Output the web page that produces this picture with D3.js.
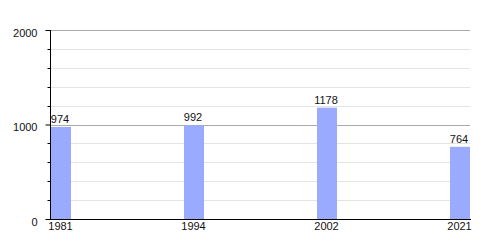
<!DOCTYPE html>
<html>
<head>
<meta charset="utf-8">
<script src="https://cdn.jsdelivr.net/npm/d3@7.9.0/dist/d3.min.js"></script>
<style>
  html, body { margin: 0; padding: 0; background: #fff; }
  svg text { font-family: "Liberation Sans", Arial, sans-serif; font-size: 11px; fill: #111; }
</style>
</head>
<body>
<svg id="chart" width="500" height="250"></svg>
<script>
const years = ["1981", "1994", "2002", "2021"];
const population = [974, 992, 1178, 764];
const yTicks = [0, 1000, 2000];
const minorTicks = [200, 400, 600, 800, 1200, 1400, 1600, 1800];

const svg = d3.select("#chart");
const plotLeft = 50, plotRight = 470, plotTop = 30, plotBottom = 219;
const barW = 20;

const x = d3.scalePoint()
  .domain(years)
  .range([plotLeft + 1 + barW / 2, plotRight - barW / 2]);

const y = d3.scaleLinear()
  .domain([0, 2000])
  .range([plotBottom, plotTop]);

// grid lines
svg.append("g")
  .selectAll("line")
  .data(minorTicks)
  .join("line")
  .attr("x1", plotLeft).attr("x2", plotRight)
  .attr("y1", d => Math.round(y(d)) + 0.5).attr("y2", d => Math.round(y(d)) + 0.5)
  .attr("stroke", "#e4e4e4");

svg.append("g")
  .selectAll("line")
  .data(yTicks.filter(d => d > 0))
  .join("line")
  .attr("x1", plotLeft).attr("x2", plotRight)
  .attr("y1", d => Math.round(y(d)) + 0.5).attr("y2", d => Math.round(y(d)) + 0.5)
  .attr("stroke", "#aaaaaa");

// bars
const data = years.map((yr, i) => ({ year: yr, value: population[i] }));

svg.append("g")
  .selectAll("rect")
  .data(data)
  .join("rect")
  .attr("x", d => x(d.year) - barW / 2)
  .attr("y", d => y(d.value))
  .attr("width", barW)
  .attr("height", d => plotBottom - y(d.value))
  .attr("fill", "#99aaff");

svg.append("g")
  .selectAll("text")
  .data(data)
  .join("text")
  .attr("x", d => x(d.year) - 1)
  .attr("y", d => y(d.value) - 4)
  .attr("text-anchor", "middle")
  .text(d => d.value);

// y axis
const yAxis = d3.axisLeft(y)
  .tickValues(yTicks)
  .tickSize(5)
  .tickPadding(8)
  .tickFormat(d3.format("d"));

const ya = svg.append("g")
  .attr("transform", `translate(${plotLeft + 0.5},0)`)
  .call(yAxis);
ya.select(".domain").remove();
ya.selectAll("text").attr("dy", "0.55em").attr("y", 0).attr("x", -13);
ya.selectAll(".tick line").attr("stroke", "#000");

svg.append("g")
  .attr("transform", `translate(${plotLeft + 0.5},0)`)
  .selectAll("line")
  .data(minorTicks)
  .join("line")
  .attr("x1", -3).attr("x2", 0)
  .attr("y1", d => Math.round(y(d)) + 0.5).attr("y2", d => Math.round(y(d)) + 0.5)
  .attr("stroke", "#000");

svg.append("line")
  .attr("x1", plotLeft + 0.5).attr("x2", plotLeft + 0.5)
  .attr("y1", y(2000)).attr("y2", plotBottom + 0.5)
  .attr("stroke", "#000");

// x axis
const xa = svg.append("g")
  .attr("transform", `translate(0,${plotBottom + 0.5})`)
  .call(d3.axisBottom(x).tickSize(0).tickPadding(3));
xa.select(".domain").remove();
xa.selectAll("text").attr("dy", "0.71em").attr("x", -1);

svg.append("line")
  .attr("x1", plotLeft).attr("x2", plotRight + 1)
  .attr("y1", plotBottom + 0.5).attr("y2", plotBottom + 0.5)
  .attr("stroke", "#000");
</script>
</body>
</html>
